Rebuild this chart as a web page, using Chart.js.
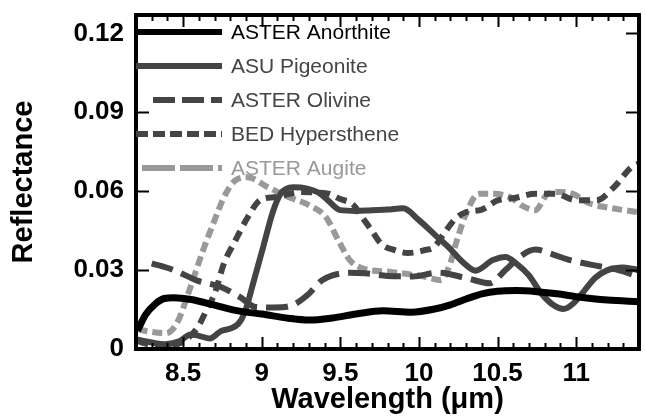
<!DOCTYPE html>
<html>
<head>
<meta charset="utf-8">
<script src="https://cdn.jsdelivr.net/npm/chart.js"></script>
<style>
  html, body { margin: 0; padding: 0; background: #fff; }
  #wrap { width: 645px; height: 417px; }
</style>
</head>
<body>
<div id="wrap"><canvas id="spectraCanvas" width="645" height="417"></canvas></div>
<script>
// axis ticks
const wavelengthTicks = [8.5, 9, 9.5, 10, 10.5, 11];
const wavelengthLabels = ['8.5', '9', '9.5', '10', '10.5', '11'];
const reflectanceTicks = [0, 0.03, 0.06, 0.09, 0.12];
const reflectanceLabels = ['0', '0.03', '0.06', '0.09', '0.12'];

const seriesNames = ['ASTER Anorthite', 'ASU Pigeonite', 'ASTER Olivine', 'BED Hypersthene', 'ASTER Augite'];

// spectra (wavelength in um, reflectance)
const anorthiteX = [8.21, 8.26, 8.32, 8.38, 8.44, 8.55, 8.7, 8.85, 9.0, 9.17, 9.3, 9.45, 9.6, 9.77, 9.95, 10.1, 10.2, 10.3, 10.4, 10.5, 10.62, 10.75, 10.88, 11.0, 11.2, 11.4];
const anorthiteY = [0.007, 0.013, 0.017, 0.0192, 0.0195, 0.0188, 0.0167, 0.0145, 0.0133, 0.0117, 0.011, 0.0118, 0.0133, 0.0145, 0.014, 0.0152, 0.0168, 0.019, 0.021, 0.022, 0.0222, 0.0218, 0.021, 0.0199, 0.0186, 0.018];

const pigeoniteX = [8.21, 8.3, 8.38, 8.47, 8.55, 8.6, 8.67, 8.74, 8.8, 8.85, 8.89, 8.95, 9.01, 9.07, 9.12, 9.2, 9.29, 9.36, 9.42, 9.5, 9.6, 9.7, 9.8, 9.9, 10.0, 10.1, 10.2, 10.28, 10.36, 10.47, 10.55, 10.62, 10.7, 10.78, 10.86, 10.92, 10.98, 11.05, 11.12, 11.2, 11.3, 11.4];
const pigeoniteY = [0.0035, 0.0025, 0.0018, 0.0028, 0.0055, 0.005, 0.004, 0.0068, 0.0078, 0.0095, 0.0136, 0.026, 0.039, 0.052, 0.059, 0.0615, 0.061, 0.0595, 0.0566, 0.0528, 0.0525, 0.0528, 0.053, 0.0535, 0.049, 0.0435, 0.038, 0.033, 0.0298, 0.0338, 0.035, 0.0325, 0.028, 0.021, 0.0165, 0.0152, 0.0172, 0.022, 0.027, 0.030, 0.031, 0.030];

const olivineX = [8.3, 8.44, 8.59, 8.74, 8.86, 8.96, 9.08, 9.2, 9.3, 9.38, 9.45, 9.56, 9.66, 9.8, 9.96, 10.12, 10.3, 10.45, 10.55, 10.64, 10.74, 10.85, 10.95, 11.1, 11.27, 11.4];
const olivineY = [0.0326, 0.030, 0.026, 0.0236, 0.0198, 0.016, 0.0158, 0.0168, 0.021, 0.026, 0.028, 0.029, 0.0288, 0.0278, 0.0276, 0.029, 0.027, 0.025, 0.030, 0.035, 0.0378, 0.036, 0.034, 0.032, 0.030, 0.0275];

const hyperstheneX = [8.21, 8.3, 8.38, 8.47, 8.54, 8.6, 8.65, 8.7, 8.76, 8.83, 8.91, 8.99, 9.09, 9.25, 9.35, 9.43, 9.5, 9.58, 9.64, 9.7, 9.76, 9.85, 9.93, 10.03, 10.1, 10.16, 10.24, 10.3, 10.4, 10.5, 10.61, 10.74, 10.87, 11.0, 11.13, 11.24, 11.35, 11.4];
const hyperstheneY = [0.003, 0.0015, 0.001, 0.002, 0.0046, 0.009, 0.015, 0.021, 0.0326, 0.041, 0.050, 0.0566, 0.0578, 0.0597, 0.0595, 0.059, 0.057, 0.055, 0.050, 0.045, 0.040, 0.0375, 0.0365, 0.0375, 0.039, 0.044, 0.050, 0.052, 0.053, 0.0565, 0.0574, 0.059, 0.059, 0.0566, 0.0566, 0.0615, 0.069, 0.0706];

const augiteX = [8.21, 8.3, 8.39, 8.46, 8.54, 8.62, 8.7, 8.76, 8.83, 8.91, 9.04, 9.17, 9.3, 9.41, 9.49, 9.56, 9.64, 9.82, 10.04, 10.14, 10.19, 10.24, 10.3, 10.38, 10.48, 10.59, 10.65, 10.74, 10.82, 10.9, 10.98, 11.08, 11.23, 11.4];
const augiteY = [0.0075, 0.0065, 0.006, 0.0098, 0.0224, 0.0364, 0.049, 0.0578, 0.064, 0.0653, 0.0615, 0.0578, 0.0547, 0.050, 0.041, 0.0338, 0.0307, 0.0293, 0.0275, 0.0262, 0.031, 0.041, 0.0515, 0.059, 0.059, 0.0574, 0.0547, 0.0528, 0.059, 0.0597, 0.059, 0.0555, 0.0535, 0.052];

const FONT = "'Liberation Sans', Arial, Helvetica, sans-serif";

function pts(xs, ys) {
  return xs.map((x, i) => ({ x: x, y: ys[i] }));
}

// box frame with inward ticks on all four sides
const frameTicks = {
  id: 'frameTicks',
  afterDatasetsDraw(chart) {
    const { ctx, chartArea: a, scales: { x, y } } = chart;
    ctx.save();
    ctx.strokeStyle = '#000';
    ctx.lineWidth = 2;
    ctx.beginPath();
    for (let k = 83; k <= 113; k++) {
      const v = k / 10;
      const px = Math.round(x.getPixelForValue(v)) + 0.5;
      const major = wavelengthTicks.some(t => Math.abs(t - v) < 1e-6);
      const len = major ? 12 : 6;
      ctx.moveTo(px, a.bottom); ctx.lineTo(px, a.bottom - len);
      ctx.moveTo(px, a.top); ctx.lineTo(px, a.top + len);
    }
    reflectanceTicks.forEach(v => {
      if (v === 0) return;
      const py = Math.round(y.getPixelForValue(v)) + 0.5;
      ctx.moveTo(a.left, py); ctx.lineTo(a.left + 13, py);
      ctx.moveTo(a.right, py); ctx.lineTo(a.right - 13, py);
    });
    ctx.stroke();
    ctx.lineWidth = 4;
    ctx.strokeRect(a.left, a.top, a.right - a.left, a.bottom - a.top);
    ctx.restore();
  }
};

// legend stacked in the upper left of the plot
const insideLegend = {
  id: 'insideLegend',
  afterDraw(chart) {
    const { ctx, chartArea: a } = chart;
    ctx.save();
    ctx.font = '21px ' + FONT;
    ctx.textBaseline = 'middle';
    ctx.textAlign = 'left';
    chart.data.datasets.forEach((ds, i) => {
      const ly = a.top + 17 + i * 34;
      ctx.strokeStyle = ds.borderColor;
      ctx.lineWidth = 6;
      ctx.lineCap = 'butt';
      ctx.setLineDash(ds.legendDash || []);
      ctx.beginPath();
      ctx.moveTo(a.left + (ds.legendStart || 0), ly);
      ctx.lineTo(222, ly);
      ctx.stroke();
      ctx.setLineDash([]);
      ctx.fillStyle = ds.borderColor;
      ctx.fillText(ds.label, 231, ly + 1);
    });
    ctx.restore();
  }
};

document.addEventListener('DOMContentLoaded', function() {
  const ctx = document.getElementById('spectraCanvas');
  if (!ctx) return;

  const common = { pointRadius: 0, borderWidth: 6, fill: false, cubicInterpolationMode: 'monotone', borderCapStyle: 'butt' };

  const chartData = {
    datasets: [
      Object.assign({}, common, { label: seriesNames[0], data: pts(anorthiteX, anorthiteY), borderColor: '#000000', borderWidth: 7 }),
      Object.assign({}, common, { label: seriesNames[1], data: pts(pigeoniteX, pigeoniteY), borderColor: '#444444' }),
      Object.assign({}, common, { label: seriesNames[2], data: pts(olivineX, olivineY), borderColor: '#444444', borderDash: [22, 9], legendDash: [22, 7], legendStart: 17 }),
      Object.assign({}, common, { label: seriesNames[3], data: pts(hyperstheneX, hyperstheneY), borderColor: '#444444', borderDash: [11, 7], legendDash: [12, 5] }),
      Object.assign({}, common, { label: seriesNames[4], data: pts(augiteX, augiteY), borderColor: '#999999', borderDash: [10, 5], legendDash: [33, 5], legendStart: 6 })
    ]
  };

  const chartOptions = {
    responsive: false,
    animation: false,
    devicePixelRatio: 1,
    layout: { padding: { top: 15, right: 6, left: 0, bottom: 0 } },
    plugins: { legend: { display: false }, tooltip: { enabled: false } },
    scales: {
      x: {
        type: 'linear',
        min: 8.2,
        max: 11.4,
        afterBuildTicks: s => { s.ticks = wavelengthTicks.map(v => ({ value: v })); },
        afterFit: s => { s.height = 68; s.paddingLeft = 0; s.paddingRight = 0; },
        grid: { display: false, drawTicks: false },
        border: { display: false },
        ticks: {
          callback: v => wavelengthLabels[wavelengthTicks.indexOf(v)],
          font: { family: FONT, size: 26, weight: 'bold' },
          color: '#000',
          padding: 9,
          maxRotation: 0,
          autoSkip: false
        },
        title: {
          display: true,
          text: 'Wavelength (μm)',
          font: { family: FONT, size: 29, weight: 'bold' },
          color: '#000',
          padding: { top: 0, bottom: 0 }
        }
      },
      y: {
        min: 0,
        max: 0.127,
        afterBuildTicks: s => { s.ticks = reflectanceTicks.map(v => ({ value: v })); },
        afterFit: s => { s.width = 136; s.paddingTop = 0; s.paddingBottom = 0; },
        grid: { display: false, drawTicks: false },
        border: { display: false },
        ticks: {
          callback: v => reflectanceLabels[reflectanceTicks.indexOf(v)],
          font: { family: FONT, size: 26, weight: 'bold' },
          color: '#000',
          padding: 12,
          autoSkip: false
        },
        title: {
          display: true,
          text: 'Reflectance',
          font: { family: FONT, size: 29, weight: 'bold' },
          color: '#000',
          padding: { top: 7, bottom: 0 }
        }
      }
    }
  };

  new Chart(ctx, {
    type: 'line',
    data: chartData,
    options: chartOptions,
    plugins: [frameTicks, insideLegend]
  });
});
</script>
</body>
</html>
